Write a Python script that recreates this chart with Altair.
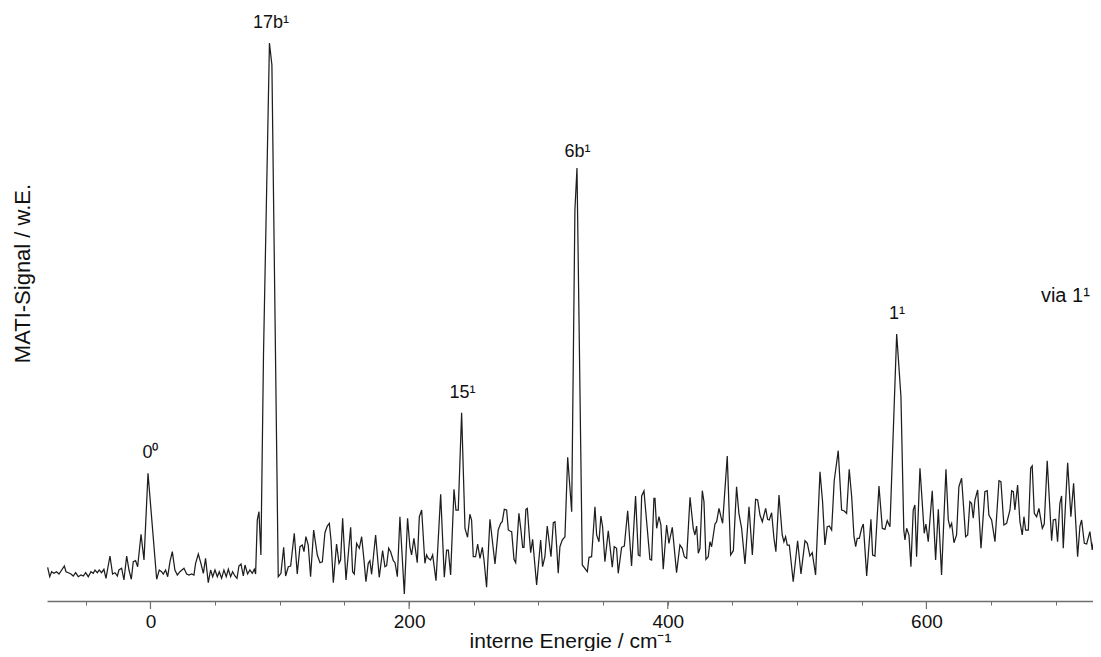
import altair as alt
import pandas as pd

# --- spectrum (energy in cm^-1, signal in arbitrary units) ---
energy = [
    -79.5, -77.9, -76.4, -74.6, -72.6, -70.7, -66.6, -65.3, -63.5, -61.5, -59.7, -57.9, -55.8, -53.7,
    -51.9, -50.1, -48.1, -46.0, -44.2, -42.9, -41.1, -39.6, -37.8, -36.0, -34.4, -31.3, -29.3, -27.4,
    -25.6, -24.4, -22.3, -20.5, -18.4, -16.6, -14.8, -13.3, -11.5, -9.9, -7.3, -5.0, -1.9, 4.8,
    6.8, 8.6, 9.9, 11.7, 13.3, 15.1, 16.9, 18.9, 20.8, 22.8, 25.9, 28.0, 29.8, 31.8, 33.6, 34.9,
    37.0, 39.0, 40.9, 42.6, 44.7, 46.5, 48.1, 49.9, 51.7, 53.2, 55.0, 56.8, 58.6, 60.2, 62.0, 63.5,
    65.3, 66.9, 68.4, 70.0, 71.8, 73.1, 75.1, 76.9, 78.7, 80.3, 81.3, 82.6, 83.9, 85.4,
    87.4, 92.0, 93.9, 98.8,
    100.9, 103.0, 104.5, 106.6, 108.4, 111.2, 113.5, 115.6, 117.4, 118.7, 120.2, 122.0, 123.8, 126.2,
    129.0, 131.1, 132.9, 134.9, 136.7, 138.3, 139.6, 141.4, 143.9, 145.8, 147.0, 148.6, 151.2, 154.8,
    156.3, 157.6, 159.4, 161.5, 163.3, 165.1, 166.6, 168.4, 169.7, 171.0, 174.1, 176.9, 179.5, 181.3,
    182.6, 184.2, 185.7, 187.8, 189.1, 190.9, 192.9, 196.3, 198.8, 200.6, 201.9, 203.7, 206.3, 207.9,
    209.7, 212.2, 213.5, 214.8, 216.6, 218.2, 220.8, 224.4, 227.2, 229.0, 230.3, 232.1, 234.7, 236.2,
    238.0, 240.6, 243.2, 245.2, 247.0, 248.3, 249.6, 251.4, 253.0, 254.8, 256.6, 257.9, 259.9, 262.5,
    264.3, 266.4, 268.9, 270.8, 272.0, 273.6, 275.4, 276.7, 278.0, 279.3, 281.1, 282.4, 284.9, 286.5,
    287.8, 288.8, 290.3, 291.4, 292.9, 294.0, 295.5, 296.5, 298.6, 301.7, 303.2, 305.0, 306.8, 308.4,
    309.7, 311.5, 312.8, 314.1, 315.3, 316.6, 318.4, 320.5, 322.6, 325.7,
    328.2, 329.8,
    333.9, 337.8, 339.1, 341.1, 343.7, 345.0, 346.8, 348.3, 349.6, 351.4, 354.0, 357.1, 358.6, 360.4,
    361.7, 364.3, 366.4, 369.0, 372.0, 375.1, 377.2, 378.5, 379.8, 381.6, 383.1, 386.2, 387.5, 389.3,
    390.1, 391.4, 393.2, 394.7, 396.5, 399.1, 400.9, 403.5, 406.8, 409.4, 411.2, 412.8, 414.6, 417.2,
    419.7, 421.0, 422.3, 423.6, 424.9, 426.7, 428.0, 429.5, 431.3, 432.6, 433.9, 436.5, 437.8, 439.6,
    441.1, 442.4, 446.0, 448.6, 450.7, 453.2, 455.0, 457.1, 459.7, 462.8, 465.4, 467.9, 469.5, 471.3,
    473.1, 475.7, 477.2, 478.5, 480.3, 482.1, 483.6, 486.0, 488.5, 489.8, 491.1, 492.4, 494.0, 497.0,
    500.4, 503.0, 506.1, 507.9, 509.9, 511.7, 514.3, 517.7, 519.7, 521.5, 523.3, 524.9, 526.7, 528.7,
    531.8, 534.4, 536.2, 538.3, 540.3, 542.2, 544.0, 545.3, 546.5, 548.1, 549.9, 551.2, 553.8, 557.1,
    558.4, 560.2, 563.3, 565.9, 567.9, 569.7, 571.8,
    577.0, 580.3, 582.5,
    583.4, 584.7, 586.5, 588.0, 589.8, 591.1, 592.4, 595.0, 596.8, 598.3, 599.6, 601.4, 604.5, 607.1,
    609.2, 611.7, 615.1, 616.9, 618.2, 619.5, 621.3, 623.3, 625.1, 627.2, 630.3, 631.9, 633.6, 634.9,
    636.2, 637.5, 639.6, 642.2, 645.2, 647.0, 648.3, 650.4, 653.0, 656.1, 657.6, 659.9, 662.0, 664.6,
    665.9, 667.2, 668.4, 670.5, 672.3, 674.1, 675.4, 676.7, 678.8, 680.6, 681.8, 683.4, 685.2, 687.0,
    689.6, 691.1, 693.4, 696.8, 698.1, 699.9, 701.4, 703.2, 704.5, 705.8, 709.2, 711.7, 713.8, 716.9,
    718.7, 720.0, 722.1, 723.9, 726.4, 728.2, 731.6, 732.9, 733.7, 734.7,
]

signal = [
    33.7, 24.3, 29.3, 27.7, 29.3, 27.0, 35.0, 29.3, 28.3, 27.0, 25.0, 28.3, 24.3, 26.0,
    25.0, 28.3, 24.3, 29.3, 27.7, 31.0, 28.3, 31.0, 28.3, 31.7, 22.7, 45.0, 27.0, 28.3,
    25.0, 31.0, 32.7, 21.0, 45.0, 31.0, 21.7, 39.3, 40.3, 34.3, 66.7, 41.0, 127.7, 21.7,
    31.0, 29.3, 27.0, 31.0, 24.3, 39.3, 49.3, 31.0, 26.0, 29.3, 32.7, 27.0, 26.0, 27.0, 26.0, 37.7,
    47.0, 37.7, 27.7, 42.7, 18.3, 31.0, 24.3, 31.0, 24.3, 29.3, 22.7, 31.0, 24.3, 31.7, 24.3, 29.3,
    25.0, 22.7, 35.0, 37.0, 25.0, 36.0, 27.0, 31.0, 27.7, 31.7, 27.0, 81.0, 89.3, 46.0,
    246.0, 558.0, 536.0, 24.3,
    27.7, 53.7, 25.0, 34.3, 35.0, 67.7, 27.0, 54.3, 56.0, 49.3, 64.3, 56.0, 24.3, 71.0,
    46.0, 38.3, 39.3, 68.3, 75.0, 77.7, 61.0, 18.3, 57.0, 37.7, 41.0, 82.7, 21.0, 73.7,
    29.3, 27.0, 57.7, 52.7, 64.3, 41.0, 19.3, 37.7, 40.3, 26.7, 66.0, 23.7, 50.3, 34.3,
    35.3, 52.7, 49.3, 40.3, 38.3, 24.3, 84.3, 7.0, 82.7, 54.3, 46.0, 62.7, 38.3, 84.3,
    91.0, 37.7, 46.0, 42.7, 41.0, 46.0, 20.3, 106.7, 23.7, 51.0, 51.0, 26.0, 111.7, 91.0,
    91.0, 188.3, 72.7, 63.7, 86.7, 81.0, 44.3, 44.3, 57.0, 42.7, 53.7, 41.0, 13.7, 81.7,
    61.0, 37.0, 71.0, 77.7, 79.3, 91.7, 91.0, 71.0, 70.0, 69.3, 41.7, 38.3, 87.7, 70.3,
    53.7, 53.7, 91.7, 92.7, 66.0, 48.3, 61.7, 47.0, 16.0, 61.0, 34.3, 44.3, 75.0, 57.7,
    44.3, 78.3, 79.3, 54.3, 27.7, 54.3, 61.0, 64.3, 143.7, 89.3,
    391.0, 433.0,
    36.0, 29.3, 43.7, 44.3, 94.3, 66.0, 59.3, 85.0, 74.3, 39.3, 70.3, 33.7, 54.3, 52.7,
    27.7, 53.7, 55.0, 90.3, 35.0, 105.0, 46.0, 45.0, 105.0, 110.0, 87.7, 41.7, 41.0, 102.7,
    102.7, 72.7, 84.3, 76.0, 31.7, 76.0, 57.7, 73.7, 28.3, 56.0, 52.7, 44.3, 42.7, 103.7,
    72.7, 66.0, 75.0, 47.7, 52.7, 110.3, 99.3, 41.7, 44.3, 59.3, 54.3, 77.0, 79.3, 92.7,
    84.3, 77.7, 145.0, 46.0, 50.3, 114.3, 87.7, 72.7, 37.0, 94.3, 46.0, 101.7, 101.0, 86.0,
    79.3, 92.7, 81.7, 81.0, 88.3, 62.7, 49.3, 106.0, 66.0, 59.3, 64.3, 56.0, 56.0, 19.3,
    60.3, 27.0, 60.3, 57.7, 45.0, 48.3, 26.0, 129.3, 99.3, 56.0, 74.3, 75.0, 71.0, 120.3,
    150.3, 91.0, 90.3, 87.7, 131.7, 104.3, 64.3, 54.3, 62.7, 62.7, 72.7, 77.0, 25.0, 81.7,
    46.0, 45.0, 115.0, 72.7, 71.7, 80.3, 74.3,
    267.0, 204.3, 71.0,
    61.0, 72.7, 66.0, 34.3, 91.0, 96.0, 44.3, 132.7, 97.7, 67.7, 77.0, 59.3, 110.3, 41.0,
    91.7, 26.0, 131.7, 81.0, 73.7, 77.7, 58.3, 66.0, 114.3, 122.7, 64.3, 66.0, 99.3, 97.7,
    82.7, 101.0, 111.0, 52.7, 109.3, 110.3, 86.0, 81.0, 59.3, 120.3, 119.3, 76.0, 77.7, 91.0,
    110.3, 109.3, 91.0, 116.0, 79.3, 66.0, 84.3, 71.0, 71.0, 132.7, 135.0, 87.7, 84.3, 92.7,
    72.7, 77.0, 140.3, 60.3, 81.0, 81.7, 59.3, 97.7, 105.0, 52.7, 138.3, 84.3, 117.7, 44.3,
    75.0, 81.0, 57.7, 57.0, 69.3, 51.0, 79.3, 64.3, 44.3, 104.3,
]

# --- peak annotations ---
peak_labels = ["0⁰", "17b¹", "15¹", "6b¹", "1¹"]
peak_energy = [0.0, 93.2, 241.2, 330.2, 577.2]
peak_signal = [143.0, 572.7, 203.3, 444.0, 281.7]

note_label = ["via 1¹"]
note_energy = [688.5]
note_signal = [299.3]

# --- axis ticks ---
minor_ticks = [-50, 0, 50, 100, 150, 200, 250, 300, 350, 400, 450, 500, 550, 600, 650, 700]
major_ticks = [0, 200, 400, 600]

FONT = "Liberation Sans"
AXIS_COLOR = "#6e6e6e"
TEXT_COLOR = "#111111"

spec_df = pd.DataFrame({"energy": energy, "signal": signal})
peak_df = pd.DataFrame({"label": peak_labels, "energy": peak_energy, "signal": peak_signal})
note_df = pd.DataFrame({"label": note_label, "energy": note_energy, "signal": note_signal})
major_df = pd.DataFrame({"tick": major_ticks})

x_scale = alt.Scale(domain=[-80, 728.8], nice=False, zero=False)
y_scale = alt.Scale(domain=[0, 593], nice=False, zero=False)

line = alt.Chart(spec_df).mark_line(color="#1e1e1e", strokeWidth=1.25, clip=True).encode(
    x=alt.X(
        "energy:Q",
        scale=x_scale,
        axis=alt.Axis(
            values=minor_ticks,
            tickSize=4,
            tickColor=AXIS_COLOR,
            domainColor=AXIS_COLOR,
            domainWidth=1.5,
            labelExpr="datum.value % 200 === 0 ? datum.label : ''",
            labelFont=FONT,
            labelFontSize=19,
            labelColor=TEXT_COLOR,
            labelPadding=7,
            grid=False,
            title="interne Energie / cm⁻¹",
            titleFont=FONT,
            titleFontSize=21,
            titleFontWeight="normal",
            titleColor=TEXT_COLOR,
            titleBaseline="alphabetic",
            titleY=46,
        ),
    ),
    y=alt.Y(
        "signal:Q",
        scale=y_scale,
        axis=alt.Axis(
            domain=False,
            ticks=False,
            labels=False,
            grid=False,
            title="MATI-Signal / w.E.",
            titleFont=FONT,
            titleFontSize=22,
            titleFontWeight="normal",
            titleColor=TEXT_COLOR,
            titleAngle=270,
            titleX=-25,
            titleY=265,
            titleAlign="center",
            titleBaseline="middle",
        ),
    ),
)

major = alt.Chart(major_df).mark_rule(color=AXIS_COLOR, strokeWidth=1.2).encode(
    x=alt.X("tick:Q", scale=x_scale),
    y=alt.value(593),
    y2=alt.value(601),
)

peaks = alt.Chart(peak_df).mark_text(
    font=FONT, fontSize=18, color=TEXT_COLOR, align="center", baseline="alphabetic"
).encode(
    x=alt.X("energy:Q", scale=x_scale),
    y=alt.Y("signal:Q", scale=y_scale),
    text="label:N",
)

note = alt.Chart(note_df).mark_text(
    font=FONT, fontSize=20, color=TEXT_COLOR, align="left", baseline="alphabetic"
).encode(
    x=alt.X("energy:Q", scale=x_scale),
    y=alt.Y("signal:Q", scale=y_scale),
    text="label:N",
)

chart = (
    alt.layer(line, major, peaks, note)
    .properties(
        width=1046,
        height=593,
        autosize=alt.AutoSizeParams(type="none"),
        padding={"left": 39, "top": 0, "right": 0, "bottom": 50},
        background="white",
    )
    .configure_view(stroke=None)
)

chart.save("out.html", embed_options={"renderer": "svg", "actions": False})
